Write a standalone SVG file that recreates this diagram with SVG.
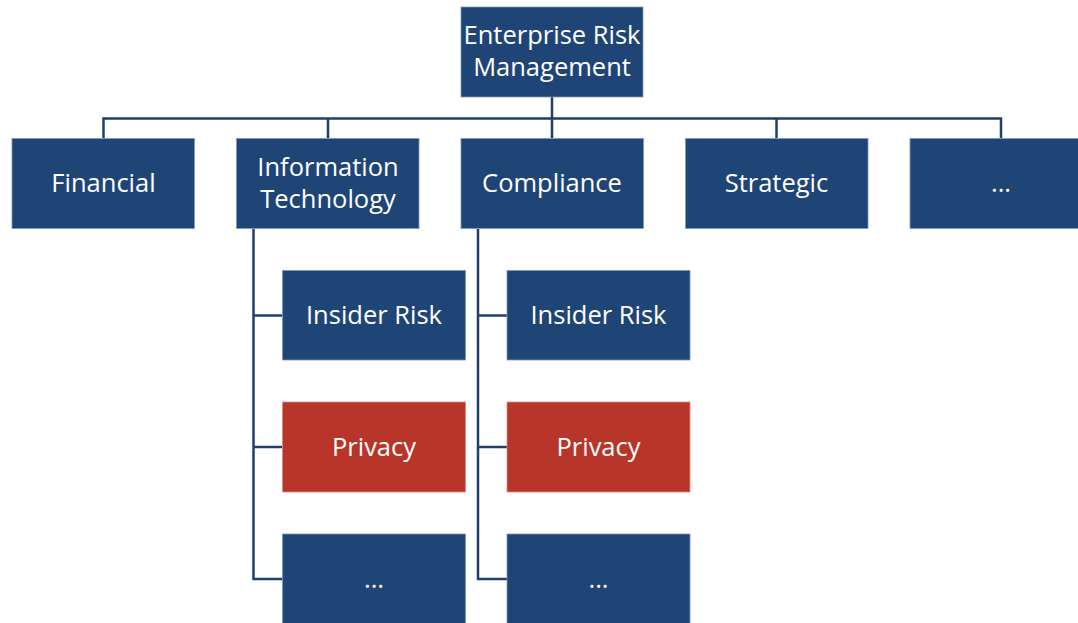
<svg xmlns="http://www.w3.org/2000/svg" width="1078" height="623" viewBox="0 0 1078 623">
<style>
.b{fill:#1F4577;stroke:#7F97B8;stroke-width:0.8}
.r{fill:#B8352A;stroke:#E08A80;stroke-width:0.8}
.t{font-family:"Open Sans","Noto Sans",sans-serif;font-size:25.5px;fill:#FFFFFF;text-anchor:middle}
.c{fill:none;stroke:#1F3F6E;stroke-width:2.5}
</style>
<rect width="1078" height="623" fill="#FFFFFF"/>
<g id="connectors">
<path class="c" d="M552 97V118.5M103.5 138V118.5H1001V138M328 118.5V138M552 118.5V138M776.5 118.5V138"/>
<path class="c" d="M253.5 229V579H282.5M253.5 315.5H282.5M253.5 447H282.5"/>
<path class="c" d="M478 229V579H507M478 315.5H507M478 447H507"/>
</g>
<g id="erm"><rect class="b" x="461" y="7" width="182" height="90"/><text class="t" x="552" y="44">Enterprise Risk</text><text class="t" x="552" y="76">Management</text></g>
<g id="financial"><rect class="b" x="12" y="138.5" width="182.5" height="90"/><text class="t" x="103.5" y="192">Financial</text></g>
<g id="it"><rect class="b" x="236.5" y="138.5" width="182.5" height="90"/><text class="t" x="328" y="176">Information</text><text class="t" x="328" y="207.5">Technology</text></g>
<g id="compliance"><rect class="b" x="461" y="138.5" width="182.5" height="90"/><text class="t" x="552" y="192">Compliance</text></g>
<g id="strategic"><rect class="b" x="685.5" y="138.5" width="182.5" height="90"/><text class="t" x="776.5" y="192">Strategic</text></g>
<g id="more1"><rect class="b" x="910" y="138.5" width="182.5" height="90"/><text class="t" x="1001" y="192">...</text></g>
<g id="it-insider"><rect class="b" x="282.5" y="270.5" width="183" height="89.5"/><text class="t" x="374" y="324">Insider Risk</text></g>
<g id="it-privacy"><rect class="r" x="282.5" y="402" width="183" height="90"/><text class="t" x="374" y="455.5">Privacy</text></g>
<g id="it-more"><rect class="b" x="282.5" y="534" width="183" height="100"/><text class="t" x="374" y="587.5">...</text></g>
<g id="c-insider"><rect class="b" x="507" y="270.5" width="183" height="89.5"/><text class="t" x="598.5" y="324">Insider Risk</text></g>
<g id="c-privacy"><rect class="r" x="507" y="402" width="183" height="90"/><text class="t" x="598.5" y="455.5">Privacy</text></g>
<g id="c-more"><rect class="b" x="507" y="534" width="183" height="100"/><text class="t" x="598.5" y="587.5">...</text></g>
</svg>
